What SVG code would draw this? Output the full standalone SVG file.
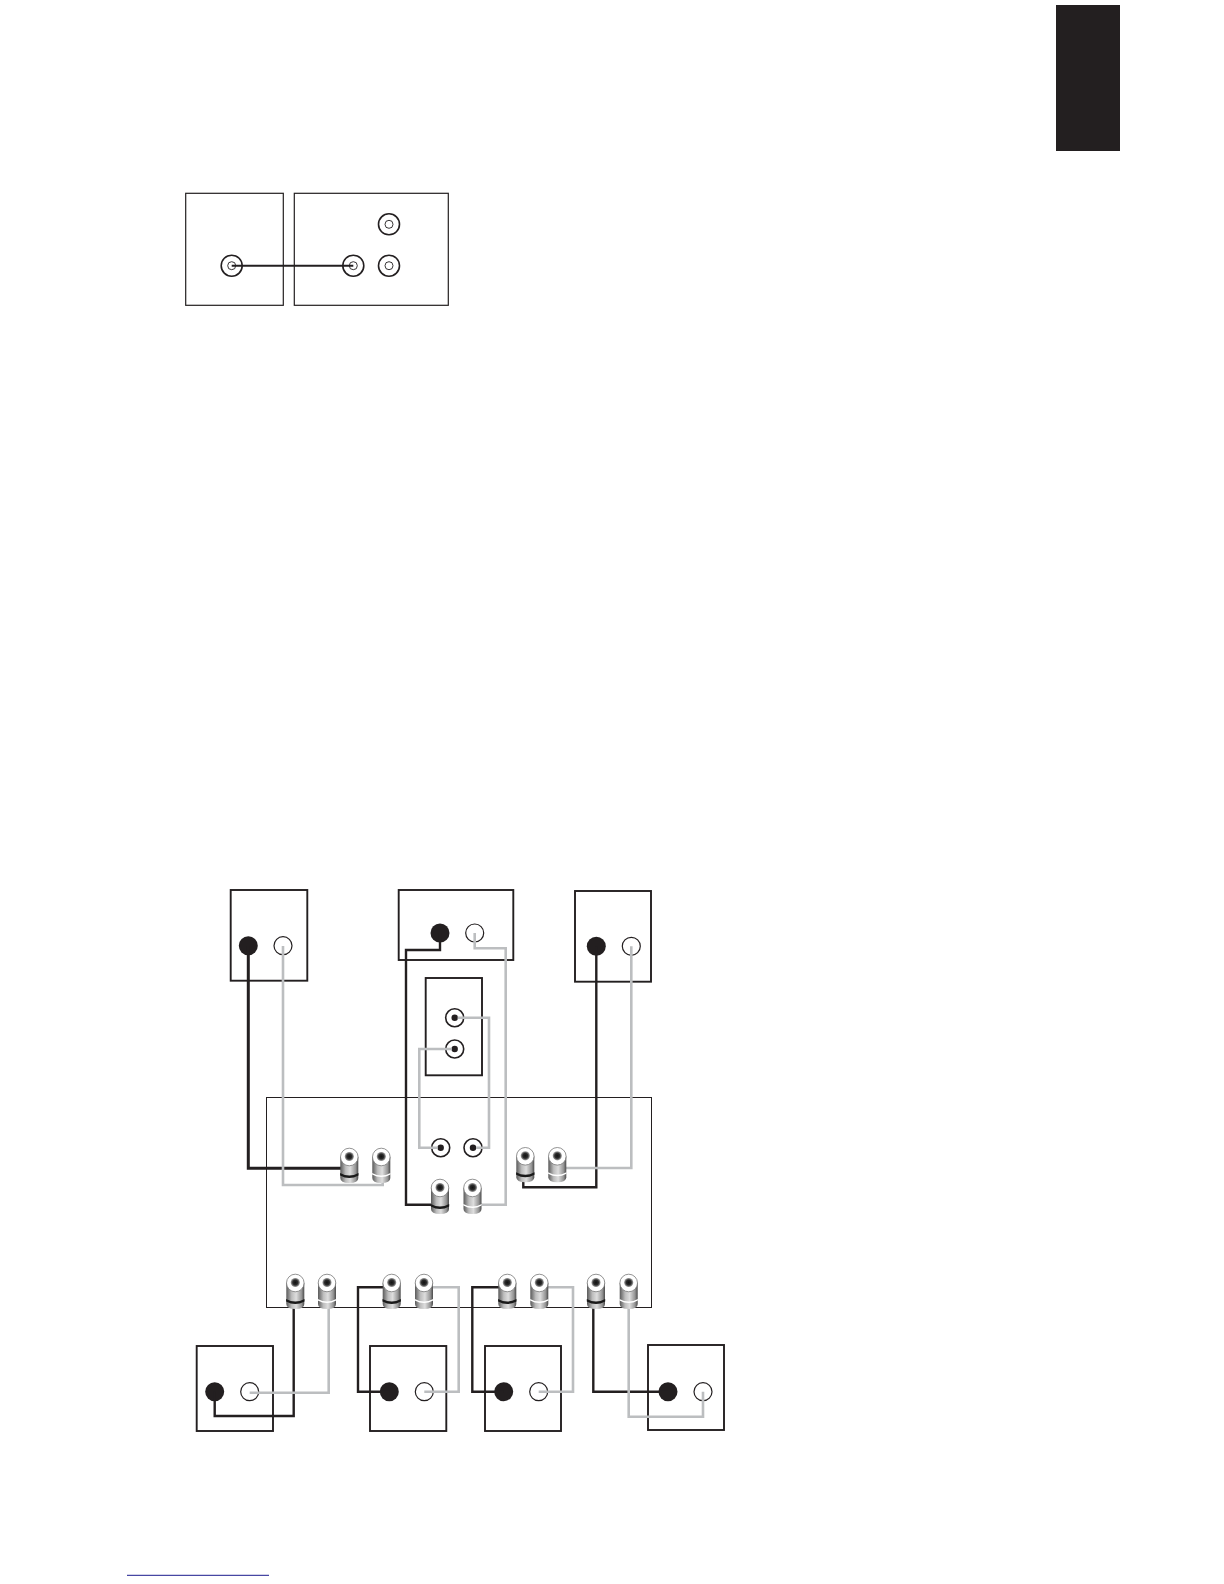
<svg xmlns="http://www.w3.org/2000/svg" xmlns:xlink="http://www.w3.org/1999/xlink" width="1224" height="1584" viewBox="0 0 1224 1584">
<style>
.box{fill:none;stroke:#231f20;stroke-width:1.9}
.boxt{fill:none;stroke:#231f20;stroke-width:1.2}
.thin{fill:none;stroke:#231f20;stroke-width:1}
.ringb{fill:#fff;stroke:#231f20;stroke-width:1.6}
.solid{fill:#231f20}
.open{fill:#fff;stroke:#231f20;stroke-width:1.2}
.wb{fill:none;stroke:#231f20;stroke-width:2.4;stroke-linejoin:miter}
.wg{fill:none;stroke:#bcbec0;stroke-width:2.6;stroke-linejoin:miter}
</style>
<defs>
<linearGradient id="body" x1="0" y1="0" x2="1" y2="0">
<stop offset="0" stop-color="#5a5a5a"/><stop offset=".3" stop-color="#bdbdbd"/><stop offset=".55" stop-color="#dedede"/><stop offset=".85" stop-color="#949494"/><stop offset="1" stop-color="#4a4a4a"/>
</linearGradient>
<radialGradient id="hole"><stop offset="0" stop-color="#111"/><stop offset=".55" stop-color="#2c2c2c"/><stop offset="1" stop-color="#aaa"/></radialGradient>
<g id="postb">
<path d="M-9 9V30Q-9 35 0 35Q9 35 9 30V9Z" fill="url(#body)"/>
<path d="M-9.2 25Q0 30 9.2 25V27.5Q0 32.5 -9.2 27.5Z" fill="#1a1a1a"/>
<circle cx="0" cy="9" r="8.8" fill="#fff" stroke="#777" stroke-width=".8"/>
<circle cx="0" cy="8.5" r="4.6" fill="url(#hole)"/>
</g>
<g id="postg">
<path d="M-9 9V30Q-9 35 0 35Q9 35 9 30V9Z" fill="url(#body)"/>
<path d="M-9.2 25Q0 30 9.2 25V26.5Q0 31.5 -9.2 26.5Z" fill="#fff"/>
<circle cx="0" cy="9" r="8.8" fill="#fff" stroke="#777" stroke-width=".8"/>
<circle cx="0" cy="8.5" r="4.6" fill="url(#hole)"/>
</g>
<g id="rca"><circle r="9" class="ringb"/><circle r="3.2" class="solid"/></g>
<g id="tj"><circle r="10.5" class="ringb"/><circle r="4" fill="#fff" stroke="#231f20" stroke-width=".9"/></g>
<g id="bd"><circle r="9.5" class="solid"/></g>
<g id="wd"><circle r="9" class="open"/></g>
</defs>
<rect width="1224" height="1584" fill="#fff"/>
<rect id="tab" x="1056" y="5" width="64" height="146" fill="#231f20"/>
<g id="top-left-unit"><rect class="boxt" x="185.7" y="193.3" width="97.6" height="112"/><use xlink:href="#tj" x="231.7" y="265.7"/></g>
<g id="top-right-unit"><rect class="boxt" x="294.3" y="193.3" width="154" height="112"/><use xlink:href="#tj" x="353.3" y="265.7"/><use xlink:href="#tj" x="389" y="265.7"/><use xlink:href="#tj" x="389" y="224.3"/></g>
<g id="amp"><rect class="thin" x="266.5" y="1097.5" width="385" height="210"/></g>
<g id="spk-front-left"><rect class="box" x="230.7" y="890" width="76.6" height="90.7"/><use xlink:href="#bd" x="248.3" y="945.7"/><use xlink:href="#wd" x="283" y="945.7"/></g>
<g id="spk-center"><rect class="box" x="398.7" y="890" width="114.6" height="70"/><use xlink:href="#bd" x="440" y="933"/><use xlink:href="#wd" x="474.7" y="933"/></g>
<g id="spk-front-right"><rect class="box" x="575" y="891" width="76" height="90.7"/><use xlink:href="#bd" x="596.3" y="946.3"/><use xlink:href="#wd" x="631.3" y="946.3"/></g>
<g id="sub"><rect class="box" x="425.7" y="978" width="56.3" height="97.3"/><use xlink:href="#rca" x="454.7" y="1017.7"/><use xlink:href="#rca" x="454.7" y="1049"/></g>
<g id="amp-rca"><use xlink:href="#rca" x="440.7" y="1147.7"/><use xlink:href="#rca" x="473" y="1147.7"/></g>
<g id="spk-surround-1"><rect class="box" x="196.7" y="1346" width="76.3" height="85"/><use xlink:href="#bd" x="214.7" y="1391.7"/><use xlink:href="#wd" x="249.7" y="1391.7"/></g>
<g id="spk-surround-2"><rect class="box" x="370" y="1346" width="76.3" height="85"/><use xlink:href="#bd" x="389.3" y="1391.7"/><use xlink:href="#wd" x="424.3" y="1391.7"/></g>
<g id="spk-surround-3"><rect class="box" x="485" y="1346" width="76" height="85"/><use xlink:href="#bd" x="503.7" y="1391.7"/><use xlink:href="#wd" x="538.7" y="1391.7"/></g>
<g id="spk-surround-4"><rect class="box" x="648" y="1345" width="76" height="85"/><use xlink:href="#bd" x="668" y="1391.7"/><use xlink:href="#wd" x="703" y="1391.7"/></g>
<g id="connectors">
<path d="M231.7 265.7H353.3" fill="none" stroke="#231f20" stroke-width="2"/>
<path class="wb" style="stroke-width:3" d="M248.3 946V1168.3H342"/>
<path class="wg" d="M283 946V1185H382.7V1175"/>
<path class="wb" d="M440 933V950H406V1204.7H433"/>
<path class="wg" d="M474.7 933V948.3H505.7V1204.7H478"/>
<path class="wg" d="M457.7 1017.7H489V1147.7H476"/>
<path class="wg" d="M451.7 1049H419.3V1147.7H437.7"/>
<path class="wb" d="M596.3 946.3V1187.3H523.3V1175"/>
<path class="wg" d="M631.3 946.3V1168H562"/>
<path class="wb" d="M214.7 1391.7V1416H293.7V1300"/>
<path class="wg" d="M249.7 1392.7H328.7V1300"/>
<path class="wb" d="M389.3 1391.7H358V1287.3H388"/>
<path class="wg" d="M424.3 1391.7H458.7V1287.3H428"/>
<path class="wb" d="M503.7 1391.7H472.3V1287.3H503"/>
<path class="wg" d="M538.7 1391.7H573V1287.3H543"/>
<path class="wb" d="M668 1391.7H593.3V1300"/>
<path class="wg" d="M703 1391.7V1416.7H628.7V1300"/>
</g>
<g id="amp-posts">
<use xlink:href="#postb" x="349.3" y="1148"/><use xlink:href="#postg" x="381.3" y="1148"/>
<use xlink:href="#postb" x="440" y="1179"/><use xlink:href="#postg" x="472.5" y="1179"/>
<use xlink:href="#postb" x="525.3" y="1147.3"/><use xlink:href="#postg" x="557.3" y="1147.3"/>
<use xlink:href="#postb" x="295.3" y="1274"/><use xlink:href="#postg" x="327" y="1274"/>
<use xlink:href="#postb" x="391.7" y="1274"/><use xlink:href="#postg" x="424" y="1274"/>
<use xlink:href="#postb" x="507.3" y="1274"/><use xlink:href="#postg" x="539.3" y="1274"/>
<use xlink:href="#postb" x="596" y="1274"/><use xlink:href="#postg" x="628.7" y="1274"/>
</g>
<path id="rule" d="M127 1575.3H269" stroke="#1a1a8c" stroke-width="1" fill="none"/>
</svg>
